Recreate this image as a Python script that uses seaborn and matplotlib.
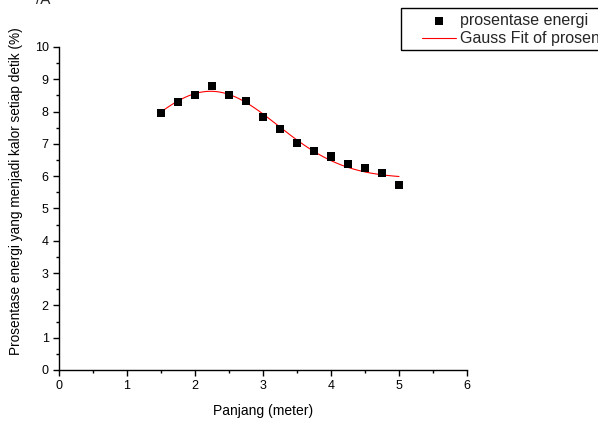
import numpy as np
import pandas as pd
import matplotlib
matplotlib.use("Agg")
import matplotlib.pyplot as plt
from matplotlib.ticker import MultipleLocator
from matplotlib.patches import Rectangle
import seaborn as sns

# data
panjang = [1.5, 1.75, 2.0, 2.25, 2.5, 2.75, 3.0, 3.25, 3.5, 3.75, 4.0, 4.25, 4.5, 4.75, 5.0]
prosentase = [7.96, 8.29, 8.52, 8.80, 8.51, 8.34, 7.83, 7.45, 7.02, 6.78, 6.61, 6.38, 6.24, 6.11, 5.73]

df = pd.DataFrame({'panjang': panjang, 'prosentase': prosentase})

# Gauss fit: y = y0 + A*exp(-2(x-xc)^2/w^2), grid over xc,w + linear lstsq for y0,A
x = np.array(panjang)
y = np.array(prosentase)
best = None
for xc in np.linspace(1.0, 4.0, 301):
    for w in np.linspace(0.5, 6.0, 276):
        g = np.exp(-2 * (x - xc) ** 2 / w ** 2)
        M = np.column_stack([np.ones_like(x), g])
        coef, res, _, _ = np.linalg.lstsq(M, y, rcond=None)
        r = np.sum((M @ coef - y) ** 2)
        if best is None or r < best[0]:
            best = (r, xc, w, coef)
_, xc, w, (y0, A) = best
xf = np.linspace(1.5, 5.0, 200)
fit = pd.DataFrame({'panjang': xf, 'fit': y0 + A * np.exp(-2 * (xf - xc) ** 2 / w ** 2)})

sns.set_style("ticks")
plt.rcParams['font.family'] = ['Liberation Sans', 'DejaVu Sans']

W, H = 598, 421
fig = plt.figure(figsize=(W / 100, H / 100), dpi=100)
ax = fig.add_axes([59/W, 51/H, 408/W, 323/H])

sns.scatterplot(data=df, x='panjang', y='prosentase', marker='s', s=34, color='black',
                edgecolor='none', ax=ax, label='prosentase energi', zorder=3)
sns.lineplot(data=fit, x='panjang', y='fit', color='red', linewidth=0.8, ax=ax,
             label='Gauss Fit of prosentase energi')

ax.set_xlim(0, 6)
ax.set_ylim(0, 10)
ax.xaxis.set_major_locator(MultipleLocator(1))
ax.xaxis.set_minor_locator(MultipleLocator(0.5))
ax.yaxis.set_major_locator(MultipleLocator(1))
ax.yaxis.set_minor_locator(MultipleLocator(0.5))
ax.tick_params(which='major', direction='out', length=4, width=1, labelsize=9, color='black', labelcolor='black')
ax.tick_params(which='minor', direction='out', length=2.5, width=1, color='black')
for s in ['top', 'right']:
    ax.spines[s].set_visible(False)
for s in ['left', 'bottom']:
    ax.spines[s].set_color('black')
    ax.spines[s].set_linewidth(1)

ax.set_xlabel('Panjang (meter)', fontsize=10, color='black', labelpad=8)
ax.set_ylabel('Prosentase energi yang menjadi kalor setiap detik (%)', fontsize=9.8, color='black')
ax.yaxis.set_label_coords(-0.088, 0.554)

# legend box (frame drawn separately so it runs off the right edge like the reference)
ax.legend_.remove()
h, l = ax.get_legend_handles_labels()
fig.patches.append(Rectangle((401/W, 1 - 50/H), 250/W, 42/H, transform=fig.transFigure,
                             fill=False, edgecolor='black', linewidth=1, zorder=5))
leg = fig.legend(h, l, loc='upper left', bbox_to_anchor=(422/W, 1 - 13/H),
                 bbox_transform=fig.transFigure, fontsize=11.5, frameon=False,
                 borderpad=0, labelspacing=0.2, handlelength=2.1, handletextpad=0.3,
                 borderaxespad=0)

fig.text(36/W, 1.0, '/A', fontsize=11, va='center', ha='left')

fig.savefig('out.png', dpi=100)
